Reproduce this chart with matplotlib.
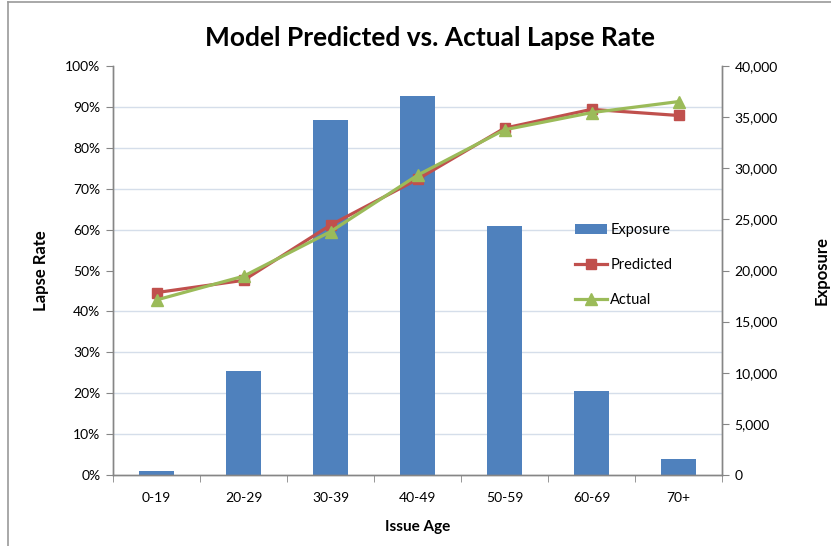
import matplotlib
matplotlib.use('Agg')
import matplotlib.pyplot as plt
from matplotlib.lines import Line2D
from matplotlib.ticker import FuncFormatter, MultipleLocator
import numpy as np

# data
age_groups = ['0-19', '20-29', '30-39', '40-49', '50-59', '60-69', '70+']
exposure = [350, 10200, 34700, 37100, 24400, 8200, 1600]
predicted = [44.6, 47.6, 61.1, 72.3, 84.8, 89.4, 87.9]   # lapse rate, %
actual = [42.8, 48.6, 59.5, 73.3, 84.4, 88.6, 91.3]      # lapse rate, %

plt.rcParams['font.family'] = ['Lato', 'DejaVu Sans']

W, H = 831, 546
fig = plt.figure(figsize=(W/100, H/100), dpi=100)

# plot area in pixel coords
left, right, top, bottom = 113, 722, 66, 475
ax = fig.add_axes([left/W, 1-bottom/H, (right-left)/W, (bottom-top)/H])
ax2 = ax.twinx()

x = np.arange(len(age_groups))
grey = '#868686'

# bars on the exposure axis (drawn underneath)
ax.bar(x, exposure, width=0.4, color='#4F81BD', zorder=2, label='Exposure')
ax.set_ylim(0, 40000)
ax.set_xlim(-0.5, len(age_groups)-0.5)
ax.yaxis.tick_right()
ax.yaxis.set_label_position('right')
ax.yaxis.set_major_locator(MultipleLocator(5000))
ax.yaxis.set_minor_locator(MultipleLocator(4000))
ax.yaxis.set_major_formatter(FuncFormatter(lambda v, p: f'{int(v):,}'))
ax.grid(axis='y', which='minor', color='#D5DEEA', linewidth=1.0, zorder=0)
ax.set_axisbelow(True)
ax.tick_params(axis='y', which='major', direction='out', length=5, color=grey,
               labelsize=10, pad=4, right=True, left=False)
ax.tick_params(axis='y', which='minor', length=0, left=False, right=False)
ax.set_ylabel('Exposure', fontsize=12, fontweight='bold', labelpad=26)

# category ticks sit between the groups
ax.set_xticks(x)
ax.set_xticklabels(age_groups)
ax.set_xticks(np.arange(-0.5, len(age_groups)), minor=True)
ax.tick_params(axis='x', which='major', length=0, labelsize=10, pad=12)
ax.tick_params(axis='x', which='minor', direction='out', length=5, color=grey)
ax.set_xlabel('Issue Age', fontsize=11, fontweight='bold', labelpad=12)

# lapse rate lines on the left axis
ax2.plot(x, predicted, color='#C0504D', linewidth=2.3, marker='s',
         markersize=7.5, label='Predicted', zorder=3)
ax2.plot(x, actual, color='#9BBB59', linewidth=2.3, marker='^',
         markersize=8.5, label='Actual', zorder=4)
ax2.set_ylim(0, 100)
ax2.yaxis.tick_left()
ax2.yaxis.set_label_position('left')
ax2.yaxis.set_major_locator(MultipleLocator(10))
ax2.yaxis.set_major_formatter(FuncFormatter(lambda v, p: f'{int(v)}%'))
ax2.tick_params(axis='y', direction='out', length=5, color=grey,
                labelsize=10, pad=4, left=True, right=False)
ax2.set_ylabel('Lapse Rate', fontsize=12, fontweight='bold', labelpad=12)

for a in (ax, ax2):
    a.spines['top'].set_visible(False)
    for s in ('left', 'right', 'bottom'):
        a.spines[s].set_color(grey)
        a.spines[s].set_linewidth(1.0)

# legend
h1, l1 = ax.get_legend_handles_labels()
h2, l2 = ax2.get_legend_handles_labels()
ax2.legend(h1 + h2, l1 + l2, loc='upper left',
           bbox_to_anchor=((562-left)/(right-left), (bottom-210)/(bottom-top)),
           frameon=False, fontsize=10.5, labelspacing=1.45, handlelength=2.2,
           handletextpad=0.2)

fig.text(430/W, 1-38/H, 'Model Predicted vs. Actual Lapse Rate',
         ha='center', va='center', fontsize=19, fontweight='bold')

# chart area border
fig.add_artist(Line2D([8/W, 1], [1-2/H, 1-2/H], color='#9A9A9A', linewidth=1.2))
fig.add_artist(Line2D([8/W, 8/W], [0, 1-2/H], color='#9A9A9A', linewidth=1.2))

fig.savefig('out.png', dpi=100)
